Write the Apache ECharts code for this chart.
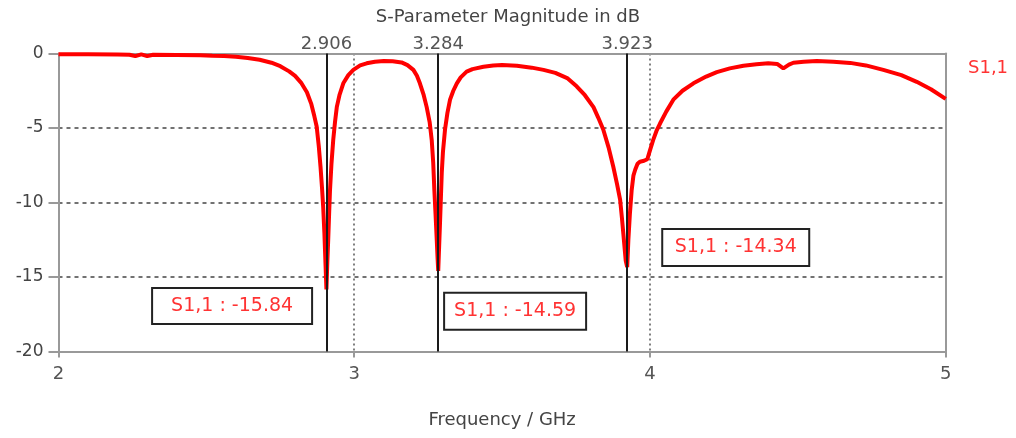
<!DOCTYPE html>
<html>
<head>
<meta charset="utf-8">
<script src="https://cdn.jsdelivr.net/npm/echarts@6/dist/echarts.min.js"></script>
<style>html,body{margin:0;padding:0;background:#fff;}#c{width:1016px;height:438px;}</style>
</head>
<body>
<div id="c"></div>
<script>
// ---- data ----
const freqGHz = [2.00,2.10,2.20,2.24,2.26,2.28,2.30,2.32,2.40,2.48,2.52,2.56,2.60,2.64,2.68,2.72,2.75,2.78,2.80,2.82,2.84,2.855,2.865,2.873,2.880,2.886,2.891,2.895,2.899,2.903,2.906,2.909,2.912,2.915,2.918,2.923,2.929,2.935,2.941,2.95,2.963,2.98,2.997,3.02,3.042,3.07,3.10,3.13,3.16,3.18,3.20,3.212,3.222,3.235,3.245,3.255,3.262,3.267,3.271,3.275,3.279,3.282,3.284,3.287,3.29,3.293,3.296,3.30,3.307,3.315,3.324,3.335,3.347,3.36,3.38,3.40,3.437,3.47,3.50,3.55,3.60,3.64,3.68,3.72,3.752,3.78,3.809,3.825,3.842,3.86,3.876,3.889,3.899,3.905,3.91,3.918,3.923,3.927,3.932,3.938,3.944,3.95,3.958,3.966,3.98,3.991,4.0,4.011,4.022,4.034,4.055,4.079,4.11,4.147,4.19,4.226,4.27,4.316,4.36,4.40,4.43,4.451,4.47,4.485,4.52,4.564,4.62,4.677,4.73,4.789,4.85,4.902,4.95,5.0];
const s11dB = [-0.05,-0.05,-0.06,-0.08,-0.18,-0.06,-0.18,-0.08,-0.1,-0.12,-0.15,-0.17,-0.22,-0.3,-0.42,-0.62,-0.85,-1.2,-1.5,-1.95,-2.6,-3.4,-4.2,-4.9,-6.2,-7.6,-9.0,-10.3,-12.0,-14.2,-15.84,-14.0,-12.5,-10.8,-9.2,-7.4,-5.8,-4.6,-3.6,-2.8,-2.0,-1.45,-1.1,-0.8,-0.66,-0.55,-0.5,-0.52,-0.6,-0.78,-1.1,-1.5,-2.0,-2.8,-3.6,-4.6,-5.8,-7.3,-9.2,-10.8,-12.5,-13.8,-14.59,-13.0,-11.4,-9.7,-8.0,-6.6,-5.1,-4.0,-3.1,-2.5,-2.0,-1.6,-1.22,-1.05,-0.89,-0.8,-0.77,-0.82,-0.95,-1.1,-1.3,-1.65,-2.2,-2.8,-3.6,-4.3,-5.1,-6.3,-7.6,-8.8,-9.8,-11.0,-12.1,-13.9,-14.34,-12.5,-10.8,-9.2,-8.2,-7.8,-7.4,-7.26,-7.2,-7.1,-6.5,-5.8,-5.2,-4.7,-3.9,-3.1,-2.5,-2.0,-1.55,-1.25,-1.0,-0.82,-0.72,-0.66,-0.7,-1.0,-0.75,-0.62,-0.55,-0.5,-0.55,-0.63,-0.8,-1.1,-1.45,-1.9,-2.4,-3.05];
const markerFreqs = [2.906, 3.284, 3.923];
const markerValues = [-15.84, -14.59, -14.34];
// anchor (data coordinates) for each marker readout box
const boxAnchorFreq = [2.587, 3.544, 4.290];
const boxAnchorDb = [-16.95, -17.30, -13.02];
const xTicks = {min: 2, max: 5, step: 1};
const yTicks = {min: -20, max: 0, step: 5};
const seriesName = 'S1,1';

const FONT = 'DejaVu Sans';
const boxSizes = [[160, 36], [142, 37], [147, 37]];

const chart = echarts.init(document.getElementById('c'), null, {renderer: 'canvas'});
const axisGray = '#999999';
chart.setOption({
  animation: false,
  backgroundColor: '#ffffff',
  title: {
    text: 'S-Parameter Magnitude in dB',
    left: 'center', top: 3,
    textStyle: {fontFamily: FONT, fontSize: 18, fontWeight: 'normal', color: '#444'}
  },
  legend: {
    data: [seriesName], left: 958, top: 54, icon: 'none', itemWidth: 0, itemGap: 0,
    selectedMode: false,
    textStyle: {fontFamily: FONT, fontSize: 18, color: '#ff3333'}
  },
  grid: {left: 58.5, right: 70.3, top: 53.5, bottom: 86.5},
  xAxis: [{
    type: 'value', min: xTicks.min, max: xTicks.max, interval: xTicks.step,
    name: 'Frequency / GHz', nameLocation: 'middle', nameGap: 60,
    nameTextStyle: {fontFamily: FONT, fontSize: 18, color: '#444'},
    axisLine: {show: true, onZero: false, lineStyle: {color: axisGray, width: 2}},
    axisTick: {show: true, length: 6, lineStyle: {color: axisGray, width: 2}},
    axisLabel: {fontFamily: FONT, fontSize: 18, color: '#555', margin: 14},
    splitLine: {show: true, showMinLine: false, showMaxLine: false, lineStyle: {color: '#555', width: 1.5, type: [2, 3]}}
  }, {
    type: 'value', position: 'top', min: xTicks.min, max: xTicks.max, interval: xTicks.step,
    axisLine: {show: true, onZero: false, lineStyle: {color: axisGray, width: 2}},
    axisTick: {show: false}, axisLabel: {show: false}, splitLine: {show: false}
  }],
  yAxis: [{
    type: 'value', min: yTicks.min, max: yTicks.max, interval: yTicks.step,
    axisLine: {show: true, onZero: false, lineStyle: {color: axisGray, width: 2}},
    axisTick: {show: true, length: 10, lineStyle: {color: axisGray, width: 2}},
    axisLabel: {fontFamily: FONT, fontSize: 17, color: '#444', margin: 15},
    splitLine: {show: true, showMinLine: false, showMaxLine: false, lineStyle: {color: '#444', width: 1.5, type: [4, 4]}}
  }, {
    type: 'value', position: 'right', min: yTicks.min, max: yTicks.max, interval: yTicks.step,
    axisLine: {show: true, onZero: false, lineStyle: {color: axisGray, width: 2}},
    axisTick: {show: false}, axisLabel: {show: false}, splitLine: {show: false}
  }],
  series: [{
    name: seriesName,
    type: 'line',
    xAxisIndex: 0, yAxisIndex: 0,
    data: freqGHz.map((f, i) => [f, s11dB[i]]),
    showSymbol: false, symbol: 'none',
    lineStyle: {color: '#ff0000', width: 4},
    itemStyle: {color: '#ff0000'},
    z: 3,
    markLine: {
      silent: true, symbol: 'none', animation: false, precision: 3,
      lineStyle: {color: '#1a1a1a', width: 2, type: 'solid'},
      label: {show: true, position: 'end', distance: 0, formatter: p => Number(p.value).toFixed(3),
        fontFamily: FONT, fontSize: 18, color: '#555'},
      data: markerFreqs.map(f => ({xAxis: f}))
    },
    markPoint: {
      silent: true, animation: false,
      symbol: 'circle', symbolSize: 1,
      itemStyle: {color: 'rgba(0,0,0,0)'},
      data: markerValues.map((v, i) => ({
        coord: [boxAnchorFreq[i], boxAnchorDb[i]], value: v,
        label: {
          show: true, position: 'inside', fontFamily: FONT, fontSize: 19, color: '#ff3333',
          formatter: p => seriesName + ' : ' + Number(p.value).toFixed(2),
          backgroundColor: '#ffffff', borderColor: '#222', borderWidth: 2,
          width: boxSizes[i][0] - 2, height: boxSizes[i][1] - 2, align: 'center',
          verticalAlign: 'middle', lineHeight: boxSizes[i][1] - 2, padding: 0
        }
      }))
    }
  }]
});
</script>
</body>
</html>
